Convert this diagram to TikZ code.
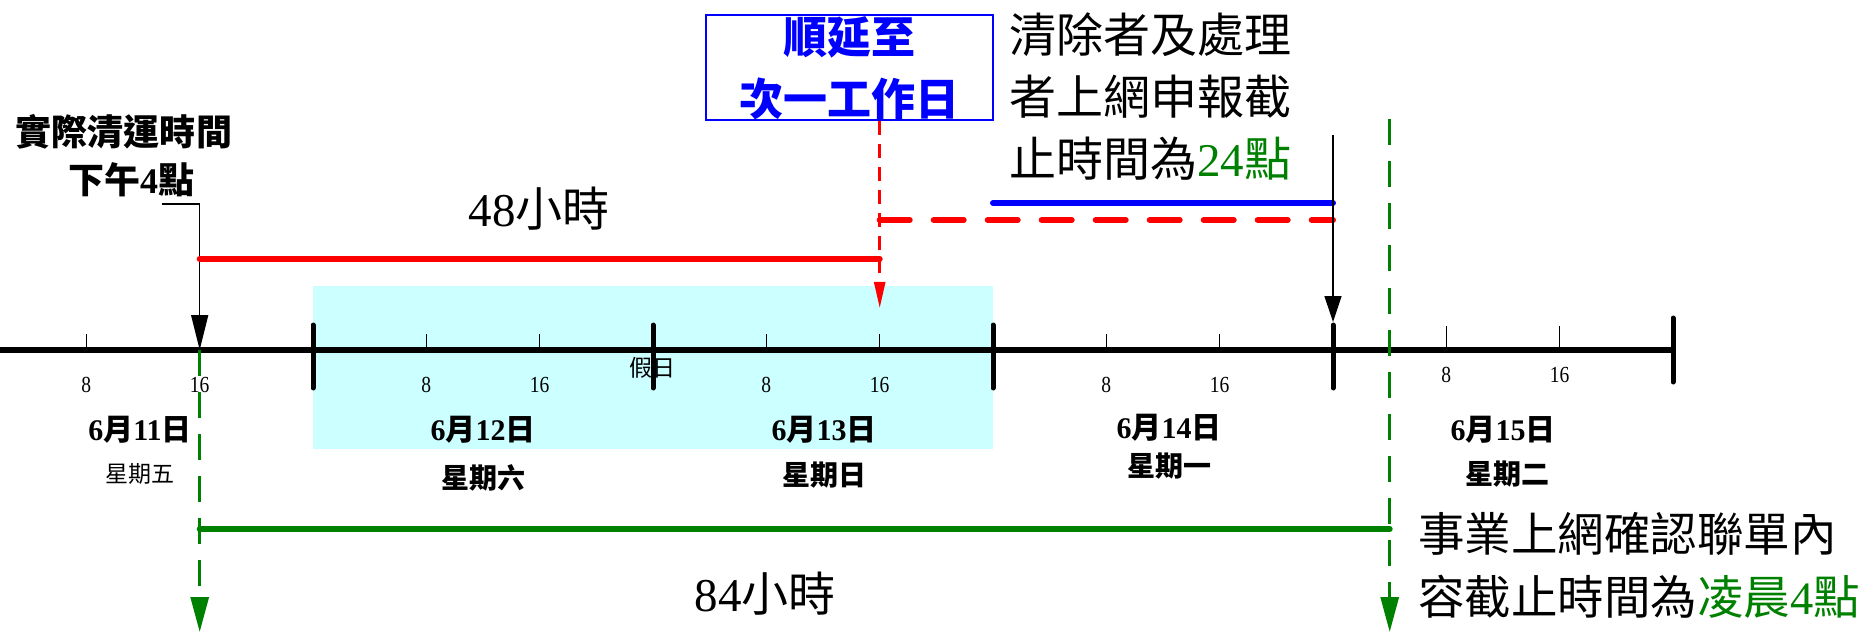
\documentclass[tikz,border=0pt]{standalone}
\usepackage{fontspec}
\setmainfont{Liberation Serif}
\newfontfamily\cjk{Noto Sans CJK TC}
\usetikzlibrary{arrows.meta}
\definecolor{dkgreen}{RGB}{0,128,0}
\definecolor{holcyan}{RGB}{204,255,255}
\tikzset{
 axisline/.style={line width=6pt},
 majortick/.style={line width=5pt, line cap=round},
 minortick/.style={line width=1.5pt},
 hourlbl/.style={font=\fontsize{23}{25}\selectfont, inner sep=0pt, xscale=0.85},
 datelbl/.style={font=\fontsize{30}{34}\selectfont\bfseries, inner sep=0pt},
 weeklbl/.style={font=\fontsize{28}{32}\selectfont\bfseries\cjk, inner sep=0pt},
 bigtxt/.style={font=\fontsize{47}{62}\selectfont, inner sep=0pt},
 redbar/.style={red, line width=6pt, line cap=round},
 reddashbar/.style={red, line width=6pt, dash pattern=on 30pt off 24pt, line cap=round},
 reddashthin/.style={red, line width=2.5pt, dash pattern=on 14pt off 9pt},
 bluebar/.style={blue, line width=6pt, line cap=round},
 greenbar/.style={dkgreen, line width=6pt, line cap=round},
 greendash/.style={dkgreen, line width=3pt, dash pattern=on 26pt off 16pt},
 callout/.style={black, line width=1.5pt},
}
\begin{document}
\begin{tikzpicture}[x=1pt,y=-1pt]
\useasboundingbox (0,0) rectangle (1873,636);
% holiday band
\fill[holcyan] (313,285.5) rectangle (993,449);
% axis
\coordinate (axL) at (0,350);
\coordinate (axR) at (1673,350);
\draw[axisline] (axL) -- (axR);
\foreach \x [count=\k] in {313,653,993,1333} {
  \draw[majortick] (\x,325) -- (\x,388);
}
\draw[majortick] (1673,318) -- (1673,382);
% minor ticks and hour labels
\foreach \s [count=\k] in {-27,313,653,993} {
  \pgfmathsetmacro\xa{\s+113.33}
  \pgfmathsetmacro\xb{\s+226.67}
  \draw[minortick] (\xa,334) -- (\xa,350);
  \draw[minortick] (\xb,334) -- (\xb,350);
  \node[hourlbl] (ha\k) at (\xa,385) {8};
  \node[hourlbl] (hb\k) at (\xb,385) {16};
}
\draw[minortick] (1446.3,326) -- (1446.3,348);
\draw[minortick] (1559.7,326) -- (1559.7,348);
\node[hourlbl] (ha5) at (1446.3,375) {8};
\node[hourlbl] (hb5) at (1559.7,375) {16};
\node[inner sep=0pt, font=\fontsize{23}{25}\selectfont\cjk] (hol) at (652,368) {假日};
% date labels
\node[datelbl] (d11) at (140,430) {6{\cjk 月}11{\cjk 日}};
\node[inner sep=0pt, font=\fontsize{23}{25}\selectfont\cjk] (w11) at (140,474) {星期五};
\node[datelbl] (d12) at (483,430) {6{\cjk 月}12{\cjk 日}};
\node[weeklbl] (w12) at (483,478) {星期六};
\node[datelbl] (d13) at (824,430) {6{\cjk 月}13{\cjk 日}};
\node[weeklbl] (w13) at (824,475) {星期日};
\node[datelbl] (d14) at (1169,428) {6{\cjk 月}14{\cjk 日}};
\node[weeklbl] (w14) at (1169,466) {星期一};
\node[datelbl] (d15) at (1503,430) {6{\cjk 月}15{\cjk 日}};
\node[weeklbl] (w15) at (1507,474) {星期二};
% key coordinates
\coordinate (tstart) at (199.7,350);
\coordinate (r16) at (879.7,350);
\coordinate (rtip) at (879.7,308);
\coordinate (g4top) at (1389.7,119.5);
\coordinate (g4bot) at (1389.7,632);
\coordinate (g1bot) at (199.7,632);
% actual pickup label + callout
\node[inner sep=0pt, font=\fontsize{36}{40}\selectfont\bfseries\cjk] (act1) at (124,132) {實際清運時間};
\node[inner sep=0pt, font=\fontsize{36}{40}\selectfont\bfseries] (act2) at (131,180) {{\cjk 下午}4{\cjk 點}};
\coordinate (cl1) at (162,204);
\coordinate (cl2) at (199.7,204);
\draw[callout, -{Triangle[length=35pt,width=17pt]}] (cl1) -- (cl2) -- (tstart);
% 48 hours
\coordinate (rb1) at (199.7,259);
\coordinate (rb2) at (879.7,259);
\draw[redbar] (rb1) -- (rb2);
\node[bigtxt] (h48) at (539,209) {48{\cjk 小時}};
% postponed box
\node[draw=blue, line width=2pt, minimum width=287pt, minimum height=105pt, inner sep=0pt,
  text=blue, align=center, font=\fontsize{44}{62}\selectfont\bfseries\cjk] (box) at (849.5,68) {順延至\\次一工作日};
\draw[reddashthin, -{Triangle[length=26pt,width=11pt]}] (box.south -| r16) -- (rtip);
\coordinate (rd1) at (879.7,220);
\coordinate (rd2) at (1333,220);
\draw[reddashbar] (rd1) -- (rd2);
\coordinate (bb1) at (993,203);
\coordinate (bb2) at (1333,203);
\draw[bluebar] (bb1) -- (bb2);
% declarer deadline
\node[bigtxt, anchor=west, align=left] (clr) at (1009,97) {{\cjk 清除者及處理}\\{\cjk 者上網申報截}\\{\cjk 止時間為}\textcolor{dkgreen}{24{\cjk 點}}};
\coordinate (bk1) at (1333,135);
\coordinate (bk2) at (1333,322);
\draw[callout, -{Triangle[length=26pt,width=17pt]}] (bk1) -- (bk2);
% 84 hours
\draw[greendash, -{Triangle[length=35pt,width=18pt]}] (tstart) -- (g1bot);
\draw[greendash, -{Triangle[length=35pt,width=18pt]}] (g4top) -- (g4bot);
\coordinate (gb1) at (199.7,529);
\coordinate (gb2) at (1389.7,529);
\draw[greenbar] (gb1) -- (gb2);
\node[bigtxt] (h84) at (765,594) {84{\cjk 小時}};
\node[anchor=west, align=left, inner sep=0pt, font=\fontsize{46.5}{63}\selectfont] (biz) at (1418,565.5) {{\cjk 事業上網確認聯單內}\\{\cjk 容截止時間為}\textcolor{dkgreen}{{\cjk 凌晨}4{\cjk 點}}};
\end{tikzpicture}
\end{document}
